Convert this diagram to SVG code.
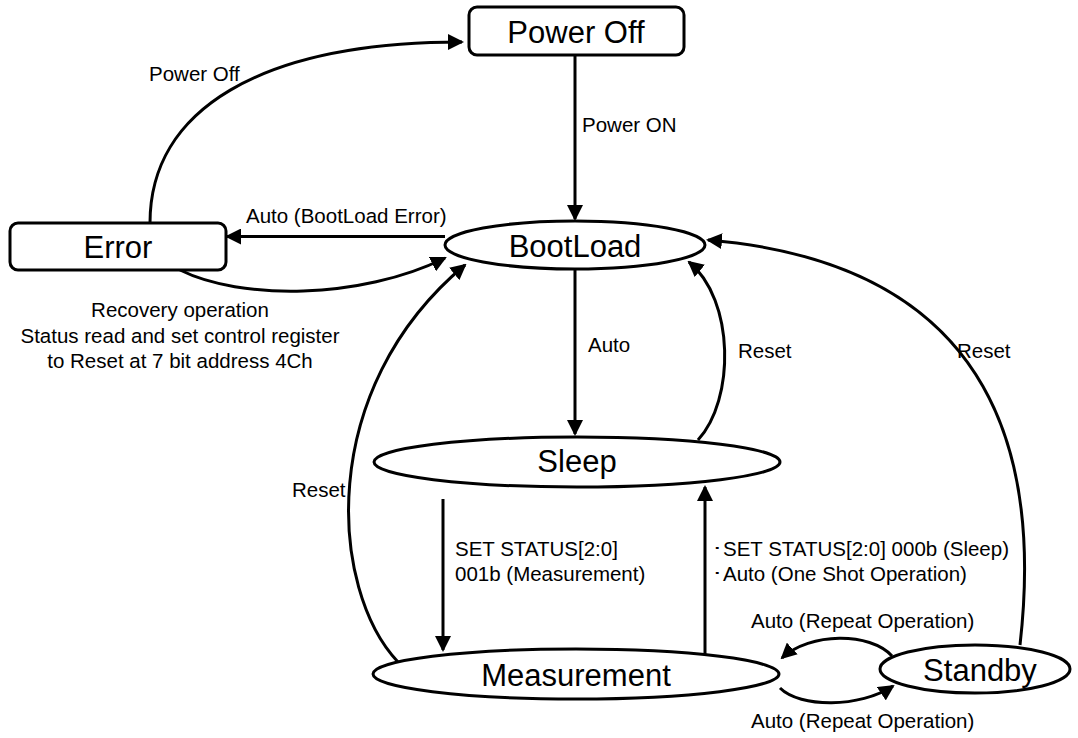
<svg xmlns="http://www.w3.org/2000/svg" width="1078" height="738" viewBox="0 0 1078 738">
<style>
.node{fill:#fff;stroke:#000;stroke-width:3}
.nl{font-family:"Liberation Sans",Arial,sans-serif;font-size:31px;fill:#000;text-anchor:middle}
.c{fill:none;stroke:#000;stroke-width:3}
.lb{font-family:"Liberation Sans",Arial,sans-serif;font-size:20.5px;fill:#000}
.mid{text-anchor:middle}
</style>
<defs>
<marker id="arr" viewBox="0 0 16 16" refX="14" refY="8" markerWidth="16" markerHeight="16" markerUnits="userSpaceOnUse" orient="auto">
<path d="M0,0 L16,8 L0,16 z" fill="#000"/>
</marker>
</defs>
<g id="connectors">
<path class="c" marker-end="url(#arr)" d="M575,55 L575,219"/>
<path class="c" marker-end="url(#arr)" d="M445,236.5 L227,236.5"/>
<path class="c" marker-end="url(#arr)" d="M150,223 C150,110 260,42 462,42"/>
<path class="c" marker-end="url(#arr)" d="M180,270 C240,300 360,300 445,258"/>
<path class="c" marker-end="url(#arr)" d="M398,662 C330,590 315,390 465,265"/>
<path class="c" marker-end="url(#arr)" d="M575,270 L575,434"/>
<path class="c" marker-end="url(#arr)" d="M698,440 C735,400 735,300 689,262"/>
<path class="c" marker-end="url(#arr)" d="M1020,645 C1040,470 1005,265 708,240"/>
<path class="c" marker-end="url(#arr)" d="M443,499 L443,650"/>
<path class="c" marker-end="url(#arr)" d="M705,655 L705,487"/>
<path class="c" marker-end="url(#arr)" d="M892,656 C870,632 810,632 782,658"/>
<path class="c" marker-end="url(#arr)" d="M780,688 C800,708 860,708 893,686"/>
</g>
<g id="labels">
<text class="lb" x="149" y="81">Power Off</text>
<text class="lb" x="582" y="132">Power ON</text>
<text class="lb" x="246" y="223">Auto (BootLoad Error)</text>
<text class="lb mid" x="180" y="317">Recovery operation</text>
<text class="lb mid" x="180" y="343">Status read and set control register</text>
<text class="lb mid" x="180" y="368">to Reset at 7 bit address 4Ch</text>
<text class="lb" x="588" y="352">Auto</text>
<text class="lb" x="738" y="358">Reset</text>
<text class="lb" x="957" y="358">Reset</text>
<text class="lb" x="292" y="497">Reset</text>
<text class="lb" x="455" y="556">SET STATUS[2:0]</text>
<text class="lb" x="455" y="581">001b (Measurement)</text>
<text class="lb" x="712" y="556">･SET STATUS[2:0] 000b (Sleep)</text>
<text class="lb" x="712" y="581">･Auto (One Shot Operation)</text>
<text class="lb" x="751" y="628">Auto (Repeat Operation)</text>
<text class="lb" x="751" y="728">Auto (Repeat Operation)</text>
</g>
<g id="power-off">
<rect class="node" x="469" y="7" width="215" height="48" rx="8"/>
<text class="nl" x="576" y="43">Power Off</text>
</g>
<g id="error">
<rect class="node" x="10" y="223" width="216" height="47" rx="8"/>
<text class="nl" x="118" y="258">Error</text>
</g>
<g id="bootload">
<ellipse class="node" cx="575" cy="245" rx="130" ry="24"/>
<text class="nl" x="575" y="257">BootLoad</text>
</g>
<g id="sleep">
<ellipse class="node" cx="577" cy="462" rx="203" ry="25"/>
<text class="nl" x="577" y="472">Sleep</text>
</g>
<g id="measurement">
<ellipse class="node" cx="576" cy="674" rx="203" ry="25"/>
<text class="nl" x="576" y="686">Measurement</text>
</g>
<g id="standby">
<ellipse class="node" cx="975" cy="669" rx="95" ry="24"/>
<text class="nl" x="980" y="681">Standby</text>
</g>
</svg>
